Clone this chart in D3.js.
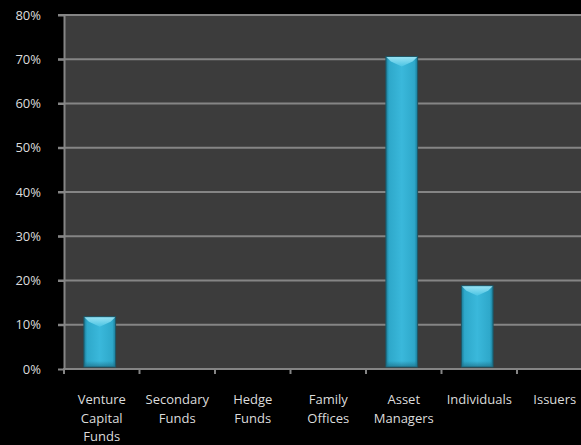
<!DOCTYPE html>
<html>
<head>
<meta charset="utf-8">
<script src="https://cdn.jsdelivr.net/npm/d3@7"></script>
<style>
  html, body { margin: 0; padding: 0; background: #000; }
  svg { display: block; }
</style>
</head>
<body>
<svg id="chart" width="581" height="445"></svg>
<script>
// Investor categories and their shares
const categories = [
  ["Venture", "Capital", "Funds"],
  ["Secondary", "Funds"],
  ["Hedge", "Funds"],
  ["Family", "Offices"],
  ["Asset", "Managers"],
  ["Individuals"],
  ["Issuers"]
];
const shares = [11.8, 0, 0, 0, 70.6, 18.8, 0];
const yTicks = [0, 10, 20, 30, 40, 50, 60, 70, 80];

const svg = d3.select("#chart");
const plotLeft = 64, plotTop = 15, plotBottom = 369;
const bandW = 75.5;
const plotRight = plotLeft + bandW * categories.length;

const x = d3.scaleBand()
  .domain(d3.range(categories.length))
  .range([plotLeft, plotRight])
  .paddingInner(0.58)
  .paddingOuter(0.29);

const y = d3.scaleLinear().domain([0, 80]).range([plotBottom, plotTop]);

const font = "'Open Sans', Lato, sans-serif";
const textColor = "#dcdcdc";

// Bar gradients
const defs = svg.append("defs");
const g1 = defs.append("linearGradient").attr("id", "barFill")
  .attr("x1", "0").attr("x2", "1").attr("y1", "0").attr("y2", "0");
[["0%", "#1a7a96"], ["10%", "#2ea8ca"], ["50%", "#3ab8db"], ["90%", "#2ea8ca"], ["100%", "#1a7a96"]]
  .forEach(([o, c]) => g1.append("stop").attr("offset", o).attr("stop-color", c));
const g2 = defs.append("linearGradient").attr("id", "capFill")
  .attr("x1", "0").attr("x2", "0").attr("y1", "0").attr("y2", "1");
[["0%", "#a8eaf8"], ["100%", "#4cc6e5"]]
  .forEach(([o, c]) => g2.append("stop").attr("offset", o).attr("stop-color", c));
const g3 = defs.append("linearGradient").attr("id", "baseFill")
  .attr("x1", "0").attr("x2", "0").attr("y1", "0").attr("y2", "1");
[["0%", "#1d6c84", 0], ["100%", "#1d6c84", 0.7]]
  .forEach(([o, c, a]) => g3.append("stop").attr("offset", o).attr("stop-color", c).attr("stop-opacity", a));

// Plot background
svg.append("rect")
  .attr("x", plotLeft).attr("y", plotTop)
  .attr("width", plotRight - plotLeft).attr("height", plotBottom - plotTop)
  .attr("fill", "#3c3c3c");

// Gridlines
svg.append("g").selectAll("line")
  .data(yTicks.filter(d => d > 0))
  .join("line")
  .attr("x1", plotLeft - 6).attr("x2", plotRight)
  .attr("y1", d => y(d)).attr("y2", d => y(d))
  .attr("stroke", "#858585").attr("stroke-width", 2);

// Bars
const bars = svg.append("g").selectAll("g")
  .data(shares.map((v, i) => ({ v, i })).filter(d => d.v > 0))
  .join("g");

bars.append("rect")
  .attr("x", d => x(d.i) - 2)
  .attr("y", d => y(d.v))
  .attr("width", x.bandwidth())
  .attr("height", d => y(0) - 2 - y(d.v))
  .attr("fill", "url(#barFill)")
  .attr("stroke", "#1d5666").attr("stroke-width", 1);

// Bevelled top cap
bars.append("path")
  .attr("d", d => {
    const x0 = x(d.i) - 2, w = x.bandwidth(), t = y(d.v), b = 5, dip = 10;
    return `M${x0 + 0.5},${t + 0.5} L${x0 + w - 0.5},${t + 0.5} L${x0 + w - b},${t + b} L${x0 + w / 2},${t + dip} L${x0 + b},${t + b} Z`;
  })
  .attr("fill", "url(#capFill)").attr("opacity", 0.85);

// Shaded base
bars.append("rect")
  .attr("x", d => x(d.i) - 1.5)
  .attr("y", y(0) - 8)
  .attr("width", x.bandwidth() - 1)
  .attr("height", 6)
  .attr("fill", "url(#baseFill)");

// Y axis
const yAxis = svg.append("g")
  .attr("transform", `translate(${plotLeft},0)`)
  .call(d3.axisLeft(y).tickValues(yTicks).tickFormat(d => d + "%").tickSize(6).tickSizeOuter(0));
yAxis.select(".domain").attr("stroke", "#858585").attr("stroke-width", 2);
yAxis.selectAll(".tick line").attr("stroke", "#858585").attr("stroke-width", 2);
yAxis.selectAll(".tick text")
  .attr("x", -23)
  .attr("fill", textColor)
  .attr("font-family", font)
  .attr("font-size", 13);

// X axis
const xAxisG = svg.append("g").attr("transform", `translate(0,${plotBottom})`);
xAxisG.append("line")
  .attr("x1", plotLeft - 1).attr("x2", plotRight)
  .attr("stroke", "#858585").attr("stroke-width", 2);
xAxisG.selectAll("line.tick")
  .data(d3.range(categories.length + 1))
  .join("line").attr("class", "tick")
  .attr("x1", i => plotLeft + i * x.step()).attr("x2", i => plotLeft + i * x.step())
  .attr("y1", 0).attr("y2", 5)
  .attr("stroke", "#858585").attr("stroke-width", 2);

// Category labels
const lbl = svg.append("g").selectAll("text")
  .data(categories)
  .join("text")
  .attr("x", (d, i) => x(i) + x.bandwidth() / 2)
  .attr("y", 404)
  .attr("text-anchor", "middle")
  .attr("fill", textColor)
  .attr("font-family", font)
  .attr("font-size", 13);
lbl.selectAll("tspan")
  .data(d => d)
  .join("tspan")
  .attr("x", function () { return this.parentNode.getAttribute("x"); })
  .attr("dy", (d, j) => j === 0 ? 0 : 18.5)
  .text(d => d);
</script>
</body>
</html>
